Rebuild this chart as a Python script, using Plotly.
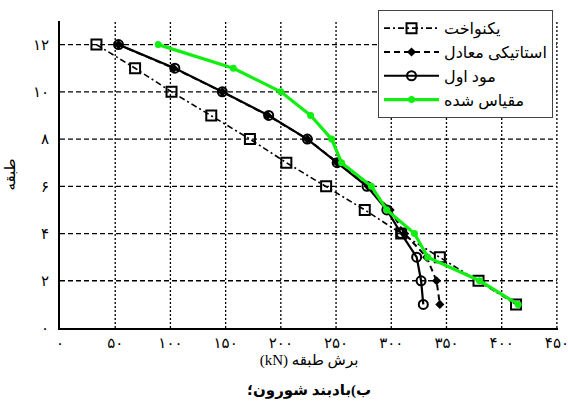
import plotly.graph_objects as go

# Storey numbers (top to bottom) and storey shear in kN for each method
floors = [12, 11, 10, 9, 8, 7, 6, 5, 4, 3, 2, 1]
shear_uniform = [33, 68, 101, 137, 172, 205, 241, 276, 309, 344, 379, 413]
shear_static = [53, 103, 147, 188, 224, 251, 279, 299, 312, 332, 341, 344]
shear_mode1 = [53, 104, 147, 189, 224, 251, 278, 296, 309, 323, 327, 329]
shear_scaled = [89, 157, 200, 227, 246, 255, 282, 296, 321, 333, 380, 415]

names = ["یکنواخت", "استاتیکی معادل", "مود اول", "مقیاس شده"]
x_title = "برش طبقه (kN)"
y_title = "طبقه"
caption = "ب)بادبند شورون؛"

x_ticks = [0, 50, 100, 150, 200, 250, 300, 350, 400, 450]
y_ticks = [0, 2, 4, 6, 8, 10, 12]
x_max = 450
y_max = 13

PERSIAN_DIGITS = str.maketrans("0123456789", "۰۱۲۳۴۵۶۷۸۹")


def fa(n):
    return str(n).translate(PERSIAN_DIGITS)


def rtl(text):
    # right-to-left embedding so mixed Persian/Latin text keeps Persian order
    return "\u202b" + text + "\u202c"


FONT = "Liberation Serif, DejaVu Serif, DejaVu Sans, serif"

fig = go.Figure()

# Grid: dotted verticals at the x ticks, dashed horizontals at the y ticks
gx, gy = [], []
for xv in x_ticks[1:]:
    gx += [xv, xv, None]
    gy += [0, y_max, None]
fig.add_trace(go.Scatter(x=gx, y=gy, mode="lines", showlegend=False, hoverinfo="skip",
                         line=dict(color="black", width=1.3, dash="2px,2px")))
hx, hy = [], []
for yv in y_ticks[1:]:
    hx += [0, x_max, None]
    hy += [yv, yv, None]
fig.add_trace(go.Scatter(x=hx, y=hy, mode="lines", showlegend=False, hoverinfo="skip",
                         line=dict(color="black", width=1.3, dash="5px,3px")))

fig.add_trace(go.Scatter(
    x=shear_uniform, y=floors, name=names[0], mode="lines+markers",
    line=dict(color="black", width=1.6, dash="6px,3px,2px,3px"),
    marker=dict(symbol="square-open", size=10, color="black",
                line=dict(width=2, color="black")),
))
fig.add_trace(go.Scatter(
    x=shear_static, y=floors, name=names[1], mode="lines+markers",
    line=dict(color="black", width=2, dash="6px,4px"),
    marker=dict(symbol="diamond", size=7, color="black"),
))
fig.add_trace(go.Scatter(
    x=shear_mode1, y=floors, name=names[2], mode="lines+markers",
    line=dict(color="black", width=2.2),
    marker=dict(symbol="circle-open", size=9, color="black",
                line=dict(width=2, color="black")),
))
fig.add_trace(go.Scatter(
    x=shear_scaled, y=floors, name=names[3], mode="lines+markers",
    line=dict(color="#11ee11", width=3.2),
    marker=dict(symbol="circle", size=7, color="#11ee11"),
))

fig.update_layout(
    width=568, height=414,
    margin=dict(l=60, r=10, t=10, b=86),
    paper_bgcolor="white", plot_bgcolor="white",
    font=dict(family=FONT, size=14, color="black"),
    showlegend=True,
    legend=dict(
        x=0.99, y=1.035, xanchor="right", yanchor="top",
        bgcolor="white", bordercolor="#444", borderwidth=1,
        font=dict(family=FONT, size=16),
        itemwidth=55, tracegroupgap=0,
    ),
    xaxis=dict(
        range=[0, x_max + 1], tickmode="array", tickvals=x_ticks,
        ticktext=[fa(v) for v in x_ticks], ticklabeloverflow="allow",
        automargin=False,
        showline=True, linecolor="black", linewidth=2,
        ticks="", showgrid=False, zeroline=False,
        tickfont=dict(size=15),
        title=dict(text=rtl(x_title), font=dict(size=15), standoff=4),
    ),
    yaxis=dict(
        range=[0, y_max], tickmode="array", tickvals=y_ticks,
        ticktext=[fa(v) for v in y_ticks], automargin=False,
        showline=True, linecolor="black", linewidth=2,
        ticks="", showgrid=False, zeroline=False,
        tickfont=dict(size=15), ticklabelstandoff=6,
        title=dict(text=y_title, font=dict(size=15), standoff=14),
    ),
)

fig.add_annotation(
    text="<b>" + rtl(caption) + "</b>", xref="paper", yref="paper",
    x=0.5, y=0, yshift=-52, xanchor="center", yanchor="top",
    showarrow=False, font=dict(family=FONT, size=15),
)

fig.write_html("out.html")
